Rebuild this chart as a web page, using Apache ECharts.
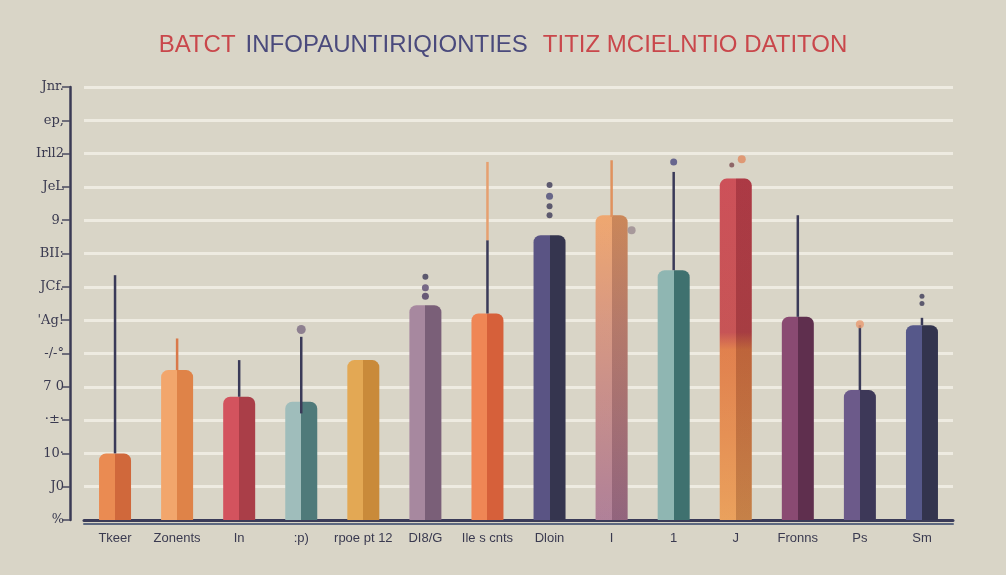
<!DOCTYPE html>
<html>
<head>
<meta charset="utf-8">
<script src="https://cdn.jsdelivr.net/npm/echarts@6/dist/echarts.min.js"></script>
<style>
html,body{margin:0;padding:0;background:#d9d5c7;}
#c{width:1006px;height:575px;}
</style>
</head>
<body>
<div id="c"></div>
<script>
// ---- data ----
const categories = ['Tkeer','Zonents','In',':p)','rpoe pt 12','DI8/G','Ile s cnts','Dloin','I','1','J','Fronns','Ps','Sm'];
const values = [2.0, 4.5, 3.7, 3.55, 4.8, 6.45, 6.2, 8.55, 9.15, 7.5, 10.25, 6.1, 3.9, 5.85];
const yTickLabels = ['%','J0','10·','·±·','7 0','-/-°',"'Ag!",'JCf.','BII:','9.','JeL','Irll2','ep,','Jnr.'];
// whiskers: [category index, low, high]
const whiskers = [[0,2.0,7.35],[1,4.5,5.45],[2,3.7,4.8],[3,3.2,5.5],[6,6.2,8.4],[6,8.4,10.75],[8,9.1,10.8],[9,7.5,10.45],[11,6.1,9.15],[12,3.9,5.85],[13,5.85,6.07]];
// dots: [category index, value]
const dots = [[3,5.72],[5,7.3],[5,6.97],[5,6.72],[7,10.06],[7,9.72],[7,9.42],[7,9.15],[8,8.7],[9,10.75],[10,10.66],[10,10.83],[12,5.88],[13,6.72],[13,6.5]];
const titleParts = ['BATCT','INFOPAUNTIRIQIONTIES','TITIZ MCIELNTIO DATITON'];

// ---- styles ----
const barLeft  = ['#ea8b52','#f2a66c','#d3535e','#9fbdbb','#e3a854','#a7889f','#ef8655','#5a5484',null,'#8fb6b2',null,'#8a4a72','#6c5a8a','#56588a'];
const barRight = ['#d0683b','#df8348','#aa3e48','#4f7a7a','#c98a3a','#7a5f78','#d6603a','#35354f',null,'#3f716f',null,'#5f2f4e','#3d3858','#33344e'];
const whiskerColors = ['#3a3a58','#d9794a','#3a3a58','#3a3a58','#3a3a58','#e6a070','#e0925e','#3a3a58','#3a3a58','#3a3a58','#3a3a58'];
const dotColors = ['#7a6a82','#3c3a58','#5a4a72','#4a3a62','#3c3a58','#4a4a78','#3c3a58','#3c3a58','#9a8a90','#4a4a80','#7a4a50','#e08a60','#e89a70','#3c3a58','#3c3a58'];
const dotSizes = [9,6,7,7,6,7,6,6,8,7,5,8,8,5,5];
const dotOffsets = [0,0,0,0,0,0,0,0,20,0,-4,6,0,0,0];

function barColor(i){
  if (i === 8) {
    return new echarts.graphic.LinearGradient(0,0,0,1,[
      {offset:0,color:'#eea064'},{offset:0.35,color:'#d49078'},{offset:1,color:'#a97690'}]);
  }
  if (i === 10) {
    return new echarts.graphic.LinearGradient(0,0,0,1,[
      {offset:0,color:'#c9424b'},{offset:0.45,color:'#c24648'},{offset:0.5,color:'#de763f'},{offset:1,color:'#e8994f'}]);
  }
  return new echarts.graphic.LinearGradient(0,0,1,0,[
    {offset:0,color:barLeft[i]},{offset:0.5,color:barLeft[i]},
    {offset:0.5,color:barRight[i]},{offset:1,color:barRight[i]}]);
}

const chart = echarts.init(document.getElementById('c'));
const option = {
  backgroundColor: '#d9d5c7',
  animation: false,
  title: {
    left: 'center', top: 28,
    text: '{r|' + titleParts[0] + '}  {b|' + titleParts[1] + '}   {r|' + titleParts[2] + '}',
    textStyle: {
      rich: {
        r: {color:'#c9474b', fontSize:24, fontFamily:'Liberation Sans, Arial', fontWeight:'normal'},
        b: {color:'#4a4a7c', fontSize:24, fontFamily:'Liberation Sans, Arial', fontWeight:'normal'}
      }
    }
  },
  grid: {left: 84, right: 53, top: 87, bottom: 55},
  xAxis: [{
    type: 'category', data: categories,
    axisLine: {lineStyle: {color:'#3a3b58', width:3}},
    axisTick: {show:false},
    axisLabel: {interval:0, color:'#3a3a50', fontSize:13, margin:12, fontFamily:'Liberation Sans, Arial'}
  },{
    type: 'category', data: categories, position:'bottom', offset:4,
    axisLine: {lineStyle: {color:'#5d6880', width:2}},
    axisTick: {show:false}, axisLabel: {show:false}
  }],
  yAxis: {
    type: 'value', min: 0, max: 13, interval: 1, offset: 14,
    axisLine: {show:true, lineStyle:{color:'#3a3a55', width:2.5}},
    axisTick: {show:true, length:8, lineStyle:{color:'#4a4a60', width:1.5}},
    axisLabel: {color:'#3a3a50', fontSize:13, margin:6, fontFamily:'DejaVu Serif, serif',
      formatter: function(v){ return yTickLabels[Math.round(v)] || ''; }},
    splitLine: {show:true, lineStyle:{color:'#eeebe1', width:3}}
  },
  series: [
    {
      type: 'bar', barWidth: 32, z: 2,
      data: values.map(function(v,i){
        return {value:v, itemStyle:{color:barColor(i), borderRadius:[7,7,0,0]}};
      })
    },
    {
      type: 'bar', barWidth: 32, barGap: '-100%', z: 3, silent: true,
      data: values.map(function(v,i){
        if (i !== 8 && i !== 10) return '-';
        return {value:v, itemStyle:{borderRadius:[7,7,0,0], color:new echarts.graphic.LinearGradient(0,0,1,0,[
          {offset:0,color:'rgba(255,255,255,0.08)'},{offset:0.5,color:'rgba(255,255,255,0.08)'},
          {offset:0.5,color:'rgba(40,20,40,0.18)'},{offset:1,color:'rgba(40,20,40,0.18)'}])}};
      })
    },
    {
      type: 'custom', z: 5,
      data: whiskers,
      renderItem: function(params, api){
        const lo = api.coord([api.value(0), api.value(1)]);
        const hi = api.coord([api.value(0), api.value(2)]);
        return {
          type:'line',
          shape:{x1:lo[0], y1:lo[1], x2:hi[0], y2:hi[1]},
          style:{stroke: whiskerColors[params.dataIndex], lineWidth:2.5}
        };
      }
    },
    {
      type: 'scatter', z: 6,
      data: dots.map(function(d,i){
        return {value:d, symbolSize:dotSizes[i], symbolOffset:[dotOffsets[i],0], itemStyle:{color:dotColors[i]}};
      })
    }
  ]
};
chart.setOption(option);
</script>
</body>
</html>
